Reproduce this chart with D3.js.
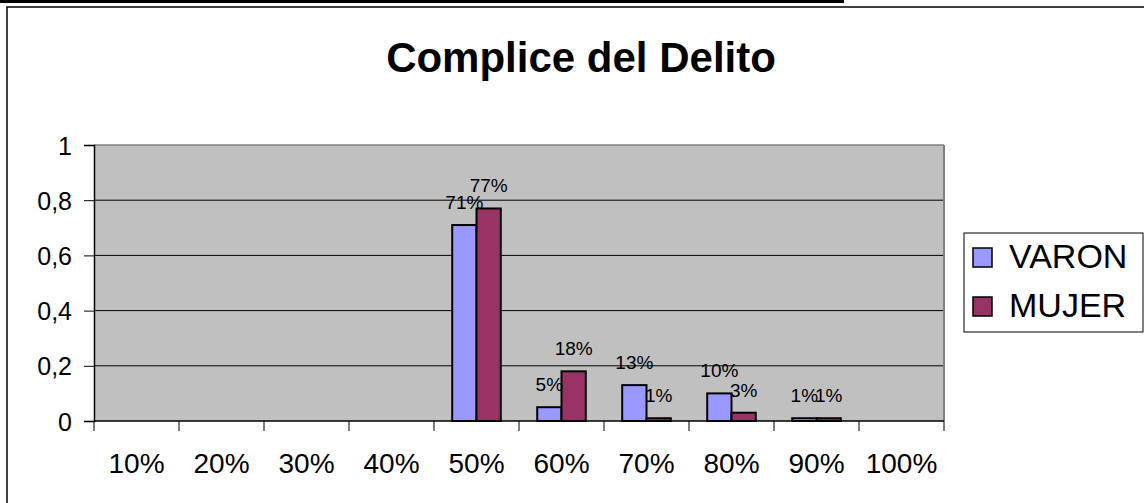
<!DOCTYPE html>
<html>
<head>
<meta charset="utf-8">
<script src="https://cdn.jsdelivr.net/npm/d3@7"></script>
<style>
  body { margin: 0; background: #fff; }
  svg text { font-family: "Liberation Sans", Arial, sans-serif; fill: #000; }
</style>
</head>
<body>
<div id="chart"></div>
<script>
// chart data
var categories = ["10%", "20%", "30%", "40%", "50%", "60%", "70%", "80%", "90%", "100%"];
var seriesNames = ["VARON", "MUJER"];
var varonValues = [null, null, null, null, 0.71, 0.05, 0.13, 0.10, 0.01, null];
var mujerValues = [null, null, null, null, 0.77, 0.18, 0.01, 0.03, 0.01, null];
var yTicks = [0, 0.2, 0.4, 0.6, 0.8, 1];
var seriesColors = ["#9999ff", "#993366"];

var W = 1144, H = 503;
var plot = {left: 94, right: 944, top: 145, bottom: 421};

var svg = d3.select("#chart").append("svg")
    .attr("width", W)
    .attr("height", H);

// top band and outer frame
svg.append("rect").attr("x", 0).attr("y", 0).attr("width", 844).attr("height", 3).attr("fill", "#000");
svg.append("rect")
    .attr("x", 7).attr("y", 7).attr("width", W).attr("height", H)
    .attr("fill", "none").attr("stroke", "#000").attr("stroke-width", 1.5);

// title
svg.append("text")
    .attr("x", 581).attr("y", 72)
    .attr("text-anchor", "middle")
    .style("font-size", "42px").style("font-weight", "bold")
    .text("Complice del Delito");

// scales
var x0 = d3.scaleBand().domain(categories).range([plot.left, plot.right]).padding(0);
var x1 = d3.scaleBand().domain(seriesNames).range([0, x0.bandwidth()]).paddingInner(0).paddingOuter(0.75);
var y = d3.scaleLinear().domain([0, 1]).range([plot.bottom, plot.top]);

// plot background
svg.append("rect")
    .attr("x", plot.left).attr("y", plot.top)
    .attr("width", plot.right - plot.left).attr("height", plot.bottom - plot.top)
    .attr("fill", "#c0c0c0");

// gridlines
svg.append("g").selectAll("line")
    .data(yTicks.filter(function(d) { return d > 0 && d < 1; }))
  .enter().append("line")
    .attr("x1", plot.left).attr("x2", plot.right)
    .attr("y1", function(d) { return y(d); }).attr("y2", function(d) { return y(d); })
    .attr("stroke", "#000").attr("stroke-width", 1);

// plot border top and right (grey)
svg.append("line").attr("x1", plot.left).attr("x2", plot.right).attr("y1", plot.top).attr("y2", plot.top)
    .attr("stroke", "#808080").attr("stroke-width", 1.5);
svg.append("line").attr("x1", plot.right).attr("x2", plot.right).attr("y1", plot.top).attr("y2", plot.bottom)
    .attr("stroke", "#808080").attr("stroke-width", 2);

// bars
var rows = categories.map(function(c, i) {
    return {cat: c, vals: [
        {name: seriesNames[0], v: varonValues[i]},
        {name: seriesNames[1], v: mujerValues[i]}
    ]};
});

var groups = svg.append("g").selectAll("g")
    .data(rows)
  .enter().append("g")
    .attr("transform", function(d) { return "translate(" + x0(d.cat) + ",0)"; });

groups.selectAll("rect")
    .data(function(d) { return d.vals.filter(function(e) { return e.v != null; }); })
  .enter().append("rect")
    .attr("x", function(d) { return x1(d.name); })
    .attr("y", function(d) { return y(d.v); })
    .attr("width", x1.bandwidth())
    .attr("height", function(d) { return y(0) - y(d.v); })
    .attr("fill", function(d) { return seriesColors[seriesNames.indexOf(d.name)]; })
    .attr("stroke", "#000")
    .attr("stroke-width", 2);

// data labels
groups.selectAll("text")
    .data(function(d) { return d.vals.filter(function(e) { return e.v != null; }); })
  .enter().append("text")
    .attr("x", function(d) { return x1(d.name) + x1.bandwidth() / 2; })
    .attr("y", function(d) { return y(d.v) - 16; })
    .attr("text-anchor", "middle")
    .style("font-size", "19px")
    .text(function(d) { return Math.round(d.v * 100) + "%"; });

// y axis
var yaxis = d3.axisLeft(y)
    .tickValues(yTicks)
    .tickSize(10)
    .tickPadding(12)
    .tickFormat(function(d) { return String(d).replace(".", ","); });

var gy = svg.append("g")
    .attr("transform", "translate(" + plot.left + ",0)")
    .call(yaxis);
gy.select(".domain").attr("stroke", "#000").attr("stroke-width", 1.5);
gy.selectAll(".tick line").attr("stroke", "#000");
gy.selectAll(".tick text")
    .style("font-size", "25px")
    .attr("font-family", null)
    .attr("dy", "0.36em");

// x axis: labels centred, ticks on the category boundaries
var xaxis = d3.axisBottom(x0).tickSize(0).tickPadding(32);
var gx = svg.append("g")
    .attr("transform", "translate(0," + plot.bottom + ")")
    .call(xaxis);
gx.select(".domain").remove();
gx.selectAll(".tick text")
    .style("font-size", "28px")
    .attr("font-family", null);

svg.append("line")
    .attr("x1", plot.left).attr("x2", plot.right)
    .attr("y1", plot.bottom).attr("y2", plot.bottom)
    .attr("stroke", "#000").attr("stroke-width", 1.5);

svg.append("g").selectAll("line")
    .data(categories.concat(["end"]))
  .enter().append("line")
    .attr("x1", function(d) { return d === "end" ? plot.right : x0(d); })
    .attr("x2", function(d) { return d === "end" ? plot.right : x0(d); })
    .attr("y1", plot.bottom).attr("y2", plot.bottom + 10)
    .attr("stroke", "#000");

// legend
var legend = svg.append("g");
legend.append("rect")
    .attr("x", 964).attr("y", 233).attr("width", 179).attr("height", 99)
    .attr("fill", "#fff").attr("stroke", "#000").attr("stroke-width", 1);

var items = legend.selectAll("g")
    .data(seriesNames)
  .enter().append("g")
    .attr("transform", function(d, i) { return "translate(973," + (248 + i * 49) + ")"; });
items.append("rect")
    .attr("width", 19).attr("height", 19)
    .attr("fill", function(d, i) { return seriesColors[i]; })
    .attr("stroke", "#000").attr("stroke-width", 1.5);
items.append("text")
    .attr("x", 36).attr("y", 20)
    .style("font-size", "34px")
    .text(function(d) { return d; });
</script>
</body>
</html>
